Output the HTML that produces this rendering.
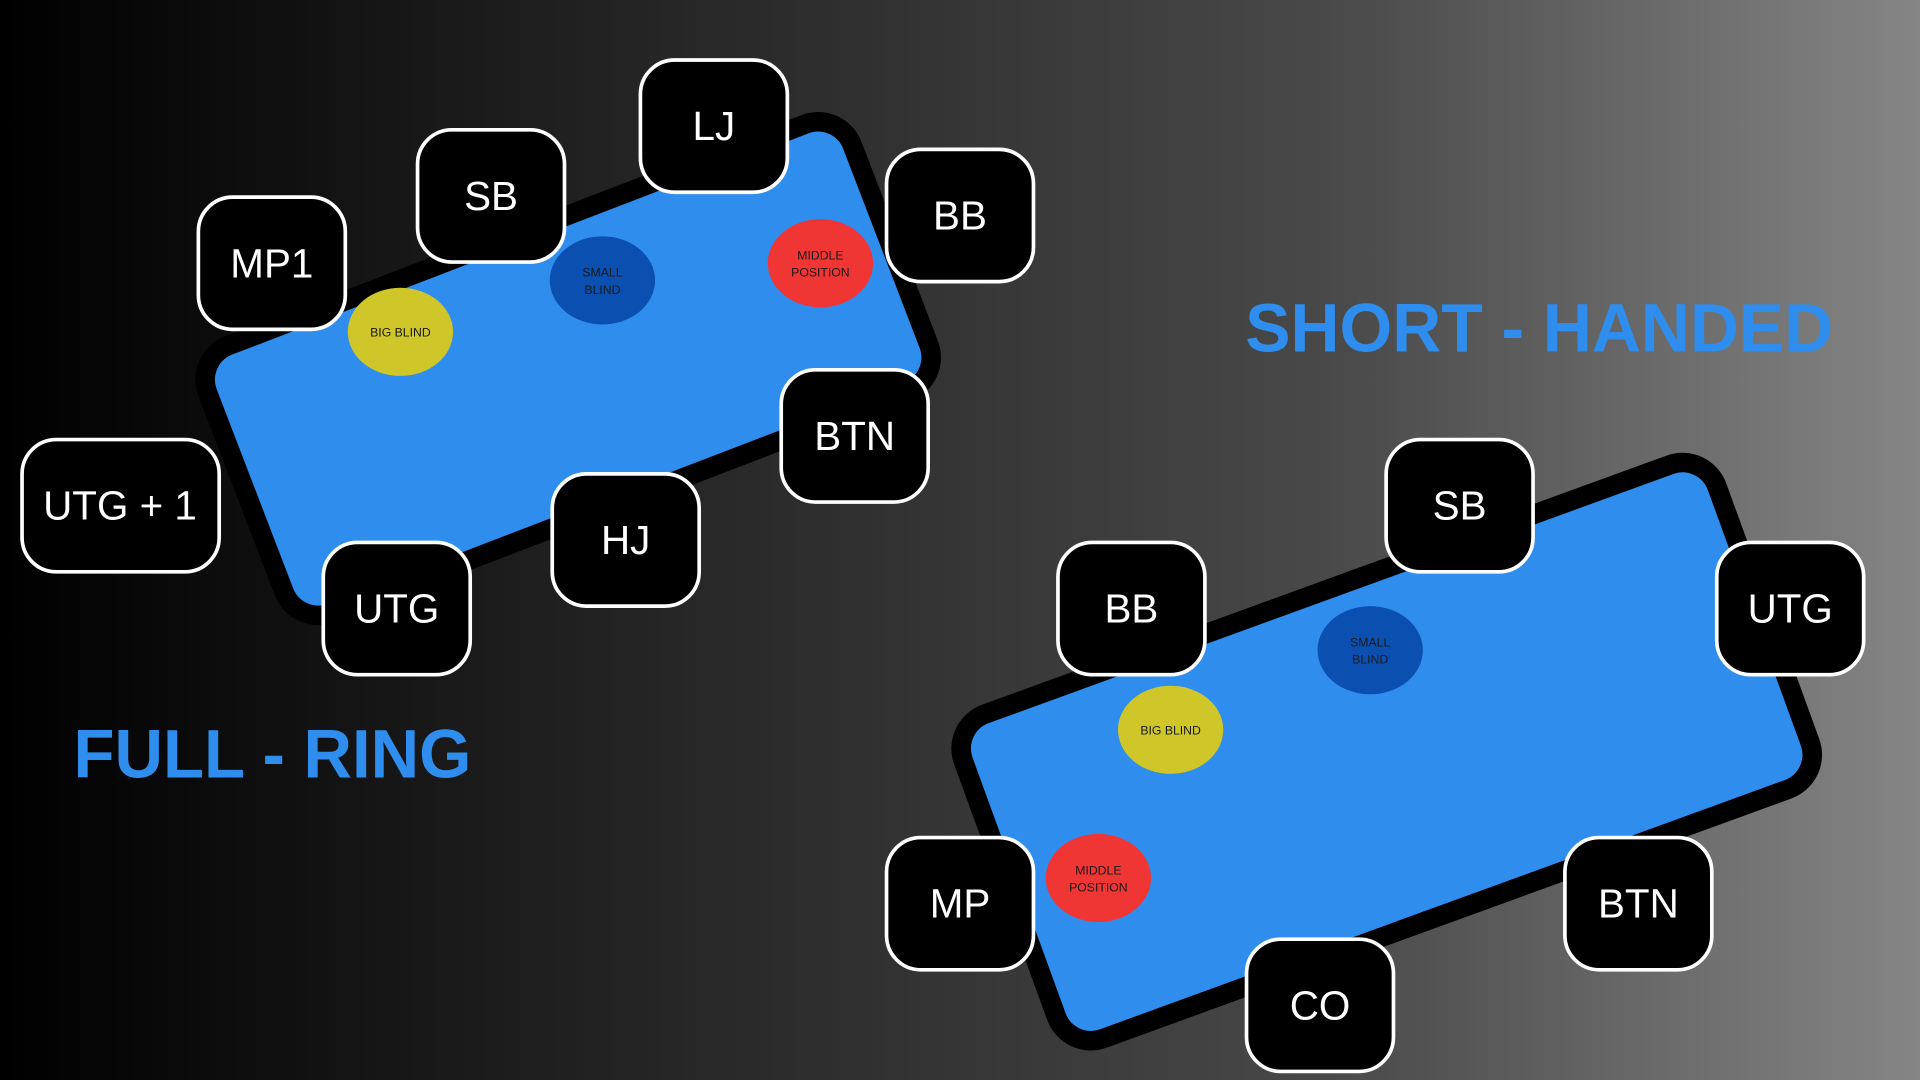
<!DOCTYPE html>
<html><head><meta charset="utf-8"><style>
html,body{margin:0;padding:0;width:1920px;height:1080px;overflow:hidden;background:#000}
svg{display:block}
.seat rect{fill:#000;stroke:#fff;stroke-width:3}
.seat text{fill:#fff;font-family:"Liberation Sans",sans-serif;font-size:33px;text-anchor:middle;dominant-baseline:central}
.chip{font-family:"Liberation Sans",sans-serif;font-size:10px;text-anchor:middle;fill:#1a1a1a}
.title{font-family:"Liberation Sans",sans-serif;font-weight:bold;fill:#2f8ded;font-size:56px}
</style></head><body>
<svg width="1920" height="1080" viewBox="0 0 1568 882" xmlns="http://www.w3.org/2000/svg">
<defs>
<linearGradient id="bg" x1="0" y1="0" x2="1" y2="0">
<stop offset="0" stop-color="#000"/>
<stop offset="0.35" stop-color="#262626"/>
<stop offset="0.7" stop-color="#4a4a4a"/>
<stop offset="1" stop-color="#858585"/>
</linearGradient>
</defs>
<rect width="1568" height="882" fill="url(#bg)"/>

<rect x="-282" y="-117" width="564" height="234" rx="30" fill="#2f8ded" stroke="#000" stroke-width="16" transform="translate(464,301) rotate(-21)"/>
<rect x="-327" y="-141" width="655" height="282" rx="30" fill="#2f8ded" stroke="#000" stroke-width="16" transform="translate(1132,614) rotate(-20)"/>

<ellipse cx="327" cy="271" rx="43" ry="36" fill="#cfc62a"/>
<text class="chip" x="327" y="275">BIG BLIND</text>
<ellipse cx="492" cy="229" rx="43" ry="36" fill="#0b4fb0"/>
<text class="chip" x="492" y="226">SMALL</text><text class="chip" x="492" y="240">BLIND</text>
<ellipse cx="670" cy="215" rx="43" ry="36" fill="#f03535"/>
<text class="chip" x="670" y="212">MIDDLE</text><text class="chip" x="670" y="226">POSITION</text>

<ellipse cx="1119" cy="531" rx="43" ry="36" fill="#0b4fb0"/>
<text class="chip" x="1119" y="528">SMALL</text><text class="chip" x="1119" y="542">BLIND</text>
<ellipse cx="956" cy="596" rx="43" ry="36" fill="#cfc62a"/>
<text class="chip" x="956" y="600">BIG BLIND</text>
<ellipse cx="897" cy="717" rx="43" ry="36" fill="#f03535"/>
<text class="chip" x="897" y="714">MIDDLE</text><text class="chip" x="897" y="728">POSITION</text>

<g class="seat"><rect x="523" y="49" width="120" height="108" rx="28"/><text x="583" y="103">LJ</text></g>
<g class="seat"><rect x="341" y="106" width="120" height="108" rx="28"/><text x="401" y="160">SB</text></g>
<g class="seat"><rect x="162" y="161" width="120" height="108" rx="28"/><text x="222" y="215">MP1</text></g>
<g class="seat"><rect x="724" y="122" width="120" height="108" rx="28"/><text x="784" y="176">BB</text></g>
<g class="seat"><rect x="638" y="302" width="120" height="108" rx="28"/><text x="698" y="356">BTN</text></g>
<g class="seat"><rect x="451" y="387" width="120" height="108" rx="28"/><text x="511" y="441">HJ</text></g>
<g class="seat"><rect x="264" y="443" width="120" height="108" rx="28"/><text x="324" y="497">UTG</text></g>
<g class="seat"><rect x="18" y="359" width="161" height="108" rx="28"/><text x="98" y="413">UTG + 1</text></g>

<g class="seat"><rect x="1132" y="359" width="120" height="108" rx="28"/><text x="1192" y="413">SB</text></g>
<g class="seat"><rect x="864" y="443" width="120" height="108" rx="28"/><text x="924" y="497">BB</text></g>
<g class="seat"><rect x="1402" y="443" width="120" height="108" rx="28"/><text x="1462" y="497">UTG</text></g>
<g class="seat"><rect x="724" y="684" width="120" height="108" rx="28"/><text x="784" y="738">MP</text></g>
<g class="seat"><rect x="1278" y="684" width="120" height="108" rx="28"/><text x="1338" y="738">BTN</text></g>
<g class="seat"><rect x="1018" y="767" width="120" height="108" rx="28"/><text x="1078" y="821">CO</text></g>

<text class="title" x="1017" y="287" textLength="480" lengthAdjust="spacingAndGlyphs">SHORT - HANDED</text>
<text class="title" x="60" y="635" textLength="325" lengthAdjust="spacingAndGlyphs">FULL - RING</text>
</svg>
</body></html>
